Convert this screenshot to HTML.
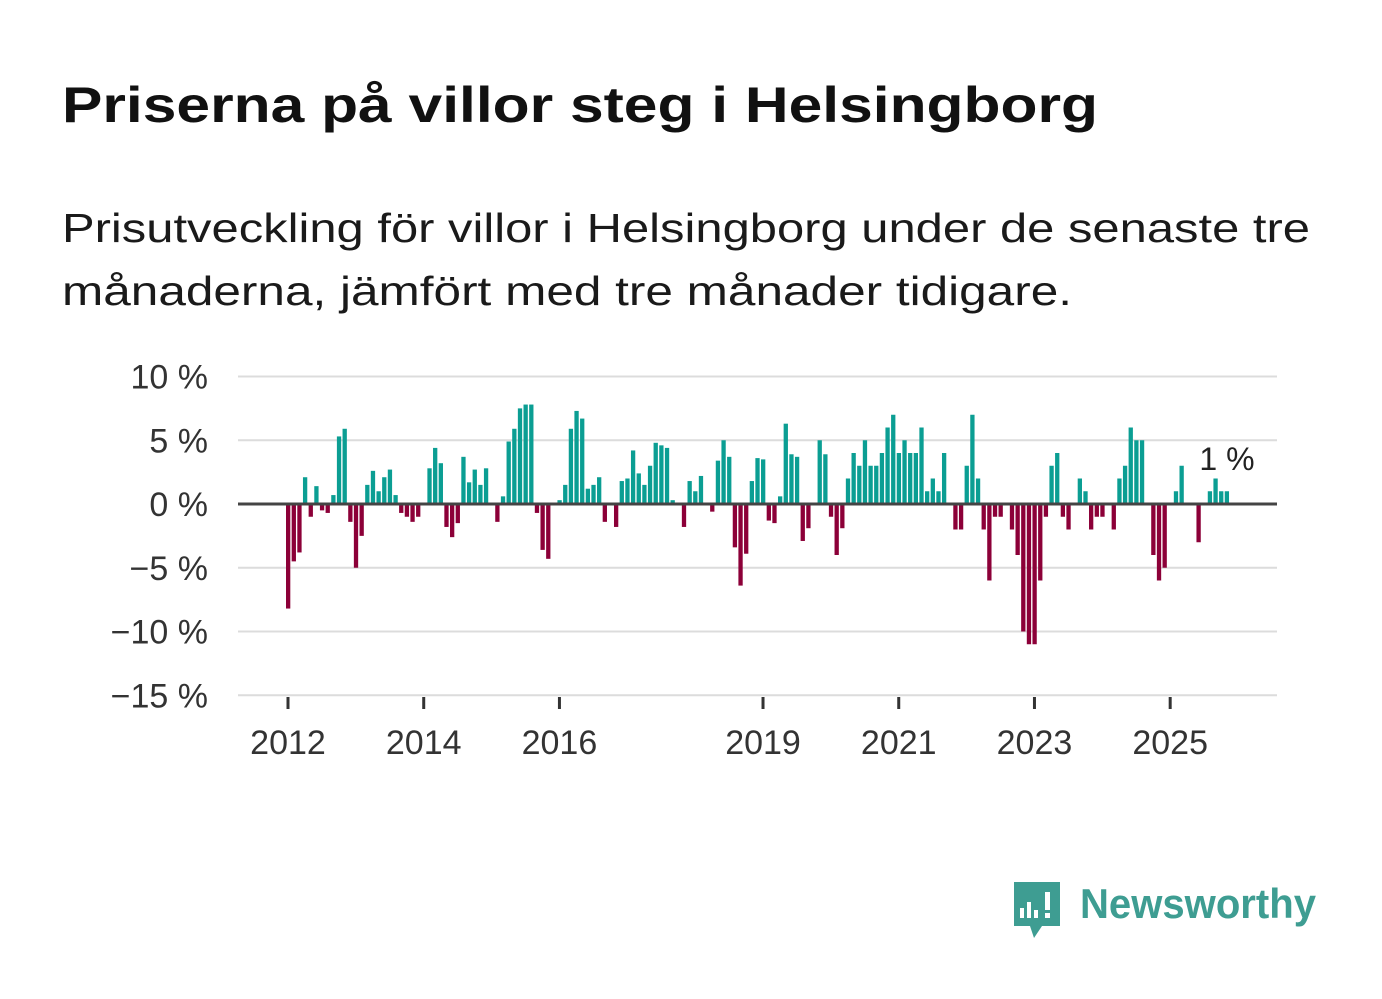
<!DOCTYPE html>
<html><head><meta charset="utf-8"><style>
html,body{margin:0;padding:0;background:#fff;}
svg{display:block;font-family:"Liberation Sans",sans-serif;}
</style></head><body>
<svg width="1382" height="999" viewBox="0 0 1382 999" xmlns="http://www.w3.org/2000/svg">
<text x="62" y="122" font-size="50" font-weight="bold" fill="#111" textLength="1036" lengthAdjust="spacingAndGlyphs">Priserna på villor steg i Helsingborg</text>
<text x="62" y="242" font-size="41" fill="#1a1a1a" textLength="1248" lengthAdjust="spacingAndGlyphs">Prisutveckling för villor i Helsingborg under de senaste tre</text>
<text x="62" y="305" font-size="41" fill="#1a1a1a" textLength="1010" lengthAdjust="spacingAndGlyphs">månaderna, jämfört med tre månader tidigare.</text>
<g id="grid"></g>
<g id="bars"></g>
<g id="axes"></g>
<text x="1227" y="470" font-size="32" fill="#222" text-anchor="middle">1 %</text>
<g>
<path d="M1014 882 h46 v44 h-18 l-8 12 l-4 -12 h-16 z" fill="#3e9d92"/>
<rect x="1020" y="908" width="4" height="10" fill="#fff"/>
<rect x="1027" y="902" width="4" height="16" fill="#fff"/>
<rect x="1034" y="910" width="4" height="8" fill="#fff"/>
<rect x="1045" y="892" width="5" height="18" fill="#fff"/>
<rect x="1045" y="913" width="5" height="5" fill="#fff"/>
<text x="1080" y="918" font-size="42" font-weight="bold" fill="#3e9d92" textLength="236" lengthAdjust="spacingAndGlyphs">Newsworthy</text>
</g>
</svg>
<script>
const values = [-8.2,-4.5,-3.8,2.1,-1,1.4,-0.5,-0.7,0.7,5.3,
5.9,-1.4,-5,-2.5,1.5,2.6,1,2.1,2.7,0.7,
-0.7,-1,-1.4,-1,0,2.8,4.4,3.2,-1.8,-2.6,
-1.5,3.7,1.7,2.7,1.5,2.8,0,-1.4,0.6,4.9,
5.9,7.5,7.8,7.8,-0.7,-3.6,-4.3,0,0.3,1.5,
5.9,7.3,6.7,1.2,1.5,2.1,-1.4,0,-1.8,1.8,
2,4.2,2.4,1.5,3,4.8,4.6,4.4,0.3,0,
-1.8,1.8,1,2.2,0,-0.6,3.4,5,3.7,-3.4,
-6.4,-3.9,1.8,3.6,3.5,-1.3,-1.5,0.6,6.3,3.9,
3.7,-2.9,-1.9,0,5,3.9,-1,-4,-1.9,2,
4,3,5,3,3,4,6,7,4,5,
4,4,6,1,2,1,4,0,-2,-2,
3,7,2,-2,-6,-1,-1,0,-2,-4,
-10,-11,-11,-6,-1,3,4,-1,-2,0,
2,1,-2,-1,-1,0,-2,2,3,6,
5,5,0,-4,-6,-5,0,1,3,0,
0,-3,0,1,2,1,1];
const startYear = 2012;
const yTicks = [10,5,0,-5,-10,-15];
const xTickYears = [2012,2014,2016,2019,2021,2023,2025];

const NS="http://www.w3.org/2000/svg";
const y = v => 504 - v*12.75;
const xMonth = i => 288 + i*5.655;
const xYear = yr => xMonth((yr-startYear)*12);
const grid=document.getElementById('grid'), bars=document.getElementById('bars'), axes=document.getElementById('axes');
function mk(tag,attrs,parent){const e=document.createElementNS(NS,tag);for(const k in attrs)e.setAttribute(k,attrs[k]);parent.appendChild(e);return e;}
yTicks.forEach(t=>{
  if(t!==0){const l=mk('line',{x1:238,x2:1277,y1:y(t),y2:y(t),stroke:'#dcdcdc','stroke-width':2},grid);
  
  }
  const tx=mk('text',{x:208,y:y(t)+12,'font-size':34,fill:'#333','text-anchor':'end'},axes);
  tx.textContent=(t<0?'\u2212'+(-t):t)+' %';
  
  
});
values.forEach((v,i)=>{
  const top=v>=0?y(v):y(0), h=Math.abs(y(v)-y(0));
  const r=mk('rect',{x:xMonth(i)-2,y:top,width:4.3,height:h,fill:v>=0?'#0b9e93':'#8c0038'},bars);
  
  
});
const z=mk('line',{x1:238,x2:1277,y1:y(0),y2:y(0),stroke:'#444','stroke-width':3},axes);


xTickYears.forEach(yr=>{
  const tk=mk('line',{x1:xYear(yr),x2:xYear(yr),y1:697,y2:709,stroke:'#333','stroke-width':3},axes);
  
  
  const t=mk('text',{x:xYear(yr),y:754,'font-size':34,fill:'#333','text-anchor':'middle'},axes);
  t.textContent=yr;
  
  
});
</script>
</body></html>
